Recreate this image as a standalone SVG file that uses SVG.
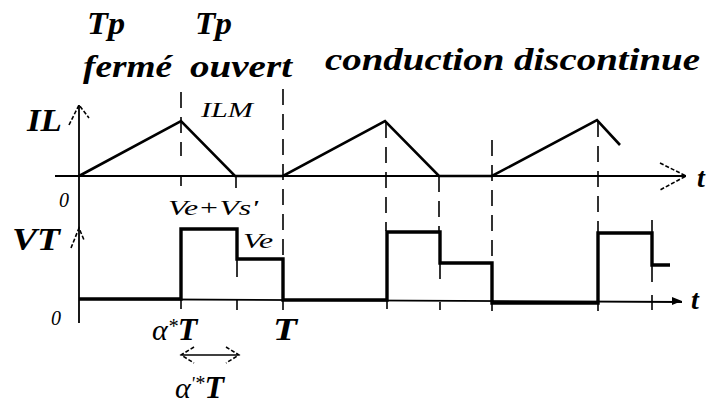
<svg xmlns="http://www.w3.org/2000/svg" width="710" height="406" viewBox="0 0 710 406">
<style>
.it{font-family:"Liberation Serif","Times New Roman",serif;font-style:italic;fill:#000}
.ax{stroke:#000;stroke-width:1.8;fill:none}
.dash{stroke:#000;stroke-width:1.6;fill:none;stroke-dasharray:16,9}
.tick{stroke:#000;stroke-width:1.6;fill:none}
.wave{stroke:#000;stroke-width:2.6;fill:none;stroke-linejoin:miter}
.vt{stroke:#000;stroke-width:3.4;fill:none;stroke-linejoin:miter}
.dh{stroke:#000;stroke-width:1.6;fill:none;stroke-dasharray:4,2}
</style>
<rect width="710" height="406" fill="#fff"/>
<g id="labels" font-family="Liberation Serif, serif" font-style="italic" font-weight="bold">
<text x="87" y="34" font-size="32" textLength="38" lengthAdjust="spacingAndGlyphs">Tp</text>
<text x="83" y="77" font-size="32" textLength="89" lengthAdjust="spacingAndGlyphs">fermé</text>
<text x="195" y="34" font-size="32" textLength="37" lengthAdjust="spacingAndGlyphs">Tp</text>
<text x="190" y="77" font-size="32" textLength="102" lengthAdjust="spacingAndGlyphs">ouvert</text>
<text x="325" y="70" font-size="32" textLength="375" lengthAdjust="spacingAndGlyphs">conduction discontinue</text>
</g>
<g id="axes">
<line class="ax" x1="79" y1="105" x2="79" y2="323"/>
<line class="ax" x1="55" y1="176" x2="686" y2="176"/>
<path class="dh" d="M660,163 L686,176 L660,190"/>
<path class="dh" d="M69,125 L79,105 L89,118"/>
<line class="ax" x1="79" y1="299" x2="682" y2="302"/>
<path d="M672,297 L682,301 L672,305 Z" fill="#000"/>
<path class="dh" d="M71,248 L79,228 L84,240"/>
</g>
<g id="axis-labels">
<g font-family="Liberation Serif, serif" font-style="italic" font-weight="bold">
<text x="27" y="131" font-size="32" textLength="35" lengthAdjust="spacingAndGlyphs">IL</text>
<text x="12" y="250" font-size="32" textLength="48" lengthAdjust="spacingAndGlyphs">VT</text>
<text x="273" y="340" font-size="32" textLength="24" lengthAdjust="spacingAndGlyphs">T</text>
<text x="697" y="187" font-size="28">t</text>
<text x="691" y="309" font-size="28">t</text>
</g>
<text class="it" x="201" y="117" font-size="22" textLength="52" lengthAdjust="spacingAndGlyphs">ILM</text>
<text class="it" x="59" y="207" font-size="20">0</text>
<text class="it" x="168" y="215" font-size="22" textLength="90" lengthAdjust="spacingAndGlyphs">Ve+Vs'</text>
<text class="it" x="243" y="248" font-size="22" textLength="30" lengthAdjust="spacingAndGlyphs">Ve</text>
<text class="it" x="51" y="325" font-size="20">0</text>
<text class="it" x="152" y="340" font-size="30">α<tspan font-size="20" dy="-7">*</tspan><tspan font-weight="bold" font-size="32" dy="7">T</tspan></text>
<text class="it" x="175" y="398" font-size="30">α<tspan font-size="18" dy="-8">'</tspan><tspan font-size="20" dy="0">*</tspan><tspan font-weight="bold" font-size="32" dy="8">T</tspan></text>
</g>
<g id="connectors">
<line class="tick" x1="182" y1="355" x2="238" y2="355"/>
<path class="dh" d="M194,347 L181,355 L194,363"/>
<path class="dh" d="M226,347 L239,355 L226,363"/>
<line class="dash" x1="181" y1="92" x2="181" y2="156"/>
<line class="tick" x1="181" y1="177" x2="181" y2="186"/>
<line class="tick" x1="181" y1="299" x2="181" y2="309"/>
<line class="tick" x1="236" y1="177" x2="236" y2="188"/>
<line class="tick" x1="237" y1="260" x2="237" y2="277"/>
<line class="tick" x1="237" y1="299" x2="237" y2="310"/>
<line class="dash" x1="283" y1="89" x2="283" y2="259" stroke-dasharray="1,40,16,10,16,10,6,14,12,34,16,6"/>
<line class="tick" x1="283" y1="299" x2="283" y2="310"/>
<line class="dash" x1="386" y1="122" x2="386" y2="231"/>
<line class="tick" x1="387" y1="301" x2="387" y2="309"/>
<line class="dash" x1="439" y1="176" x2="439" y2="232" stroke-dasharray="27,15,14"/>
<line class="tick" x1="440" y1="263" x2="440" y2="279"/>
<line class="tick" x1="440" y1="302" x2="440" y2="310"/>
<line class="dash" x1="492" y1="140" x2="492" y2="263" stroke-dasharray="16,20,19,13,17,23,15"/>
<line class="tick" x1="492" y1="303" x2="492" y2="311"/>
<line class="dash" x1="598" y1="121" x2="598" y2="233"/>
<line class="tick" x1="598" y1="303" x2="598" y2="311"/>
<line class="tick" x1="652" y1="220" x2="652" y2="233"/>
<line class="tick" x1="652" y1="265" x2="652" y2="282"/>
<line class="tick" x1="652" y1="295" x2="652" y2="310"/>
</g>
<g id="IL-wave">
<polyline class="wave" points="79,176 181,121 235,176 283,176 385,121 439,176 492,176 597,120 620,145"/>
</g>
<g id="VT-wave">
<polyline class="vt" points="79,299 181,299 181,229 237,229 237,259 283,259 283,300 387,300 387,232 440,232 440,263 492,263 492,303 598,303 598,233 652,233 652,265 670,265"/>
</g>
</svg>
